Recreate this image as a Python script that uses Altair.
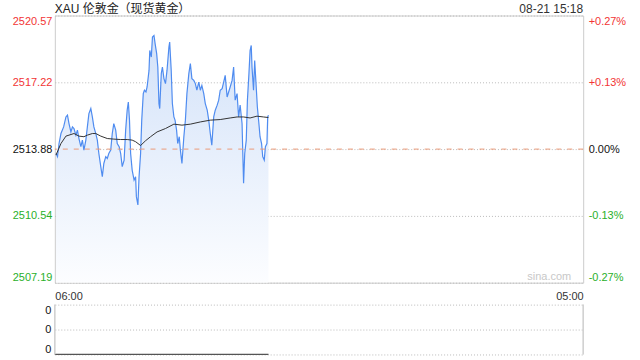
import altair as alt
import pandas as pd

# ---------------- data ----------------
title_text = "XAU 伦敦金（现货黄金）"
time_text = "08-21 15:18"
watermark = "sina.com"
x_span = [0, 1380]              # minutes after 06:00 (06:00 .. 05:00 next day)
x_labels = ["06:00", "05:00"]
y_ticks = [2507.19, 2510.54, 2513.88, 2517.22, 2520.57]
prev_close = [2513.88]

minutes = [3, 7, 11, 16, 23, 29, 33, 37, 42, 46, 50, 55, 59, 63, 68, 72, 76, 81, 85, 89,
           94, 98, 102, 107, 111, 115, 120, 124, 128, 133, 137, 141, 146, 150, 154, 159, 163, 168, 172, 176,
           181, 185, 189, 192, 195, 198, 202, 207, 211, 213, 217, 220, 224, 227, 231, 234, 238, 241, 246, 248,
           252, 255, 259, 262, 266, 269, 272, 274, 278, 281, 285, 289, 293, 298, 300, 304, 307, 311, 314, 318,
           321, 325, 328, 332, 337, 341, 345, 350, 354, 358, 363, 367, 371, 376, 380, 384, 389, 393, 398, 402,
           406, 410, 415, 419, 424, 428, 432, 437, 441, 445, 450, 454, 458, 463, 467, 471, 476, 480, 484, 489,
           491, 493, 496, 500, 503, 507, 510, 513, 515, 519, 522, 526, 529, 533, 536, 540, 543, 547, 550, 554,
           556, 558]
prices = [2513.66, 2513.50, 2514.16, 2514.66, 2514.99, 2515.49, 2515.58, 2515.16, 2514.74, 2514.99,
          2514.91, 2514.58, 2514.83, 2514.41, 2514.00, 2514.33, 2513.83, 2514.33, 2514.99, 2515.66,
          2515.91, 2515.49, 2514.99, 2514.66, 2514.33, 2513.66, 2513.00, 2512.50, 2513.16, 2513.50,
          2513.41, 2513.66, 2513.83, 2514.66, 2515.16, 2514.83, 2514.16, 2514.00, 2513.66, 2513.00,
          2513.33, 2514.83, 2515.83, 2516.24, 2515.33, 2513.66, 2512.83, 2512.33, 2512.50, 2511.50,
          2511.08, 2512.50, 2513.66, 2515.33, 2516.66, 2516.83, 2516.74, 2516.99, 2517.82, 2518.82,
          2518.49, 2519.49, 2519.57, 2519.15, 2518.66, 2517.99, 2516.16, 2515.91, 2517.66, 2517.99,
          2517.41, 2517.16, 2517.82, 2518.99, 2519.24, 2517.82, 2516.16, 2515.49, 2515.33, 2514.83,
          2514.16, 2514.50, 2513.83, 2513.16, 2514.50, 2515.33, 2516.66, 2517.66, 2518.16, 2517.41,
          2517.32, 2517.16, 2516.83, 2517.24, 2516.83, 2517.07, 2516.66, 2516.16, 2515.83, 2515.33,
          2514.66, 2514.08, 2515.49, 2515.83, 2516.08, 2516.33, 2516.83, 2516.91, 2517.24, 2517.57,
          2516.49, 2516.74, 2516.99, 2517.32, 2517.99, 2516.33, 2516.66, 2515.49, 2516.08, 2515.16,
          2513.66, 2512.17, 2513.66, 2514.33, 2516.33, 2517.66, 2518.82, 2519.07, 2517.99, 2516.83,
          2518.32, 2516.99, 2515.99, 2515.16, 2514.50, 2514.16, 2513.50, 2513.33, 2514.00, 2514.16,
          2515.49, 2515.58]

avg_minutes = [3, 16, 29, 37, 50, 63, 76, 85, 98, 107, 120, 137, 154, 172, 189, 202, 211, 224,
               237, 250, 267, 289, 311, 332, 354, 380, 406, 432, 458, 476, 493, 510, 528, 545, 558]
avg_prices = [2513.58, 2514.16, 2514.53, 2514.58, 2514.66, 2514.53, 2514.50, 2514.58, 2514.66, 2514.66,
              2514.53, 2514.41, 2514.38, 2514.36, 2514.36, 2514.33, 2514.25, 2514.06, 2514.30, 2514.50,
              2514.74, 2514.91, 2515.13, 2515.08, 2515.13, 2515.24, 2515.33, 2515.36, 2515.44, 2515.49,
              2515.49, 2515.44, 2515.53, 2515.49, 2515.46]

vol_minutes = [0, 558]
vol_values = [0, 0]
vol_ticks = [0, 0.5, 1]

# ---------------- style ----------------
FONT = "Liberation Sans, Arial, Noto Sans CJK SC"
W, H, VH = 530, 268, 50
RED, GREEN, NEUTRAL = "#f23535", "#2ab02a", "#111111"
GRID = "#bbbbbb"
FRAME = "#cccccc"

price_df = pd.DataFrame({"minute": minutes, "price": prices})
avg_df = pd.DataFrame({"minute": avg_minutes, "price": avg_prices})
pc_df = pd.DataFrame({"v": prev_close})
vol_df = pd.DataFrame({"minute": vol_minutes, "vol": vol_values})

ydom = [y_ticks[0], y_ticks[-1]]
yscale = alt.Scale(domain=ydom, zero=False, nice=False)
xscale = alt.Scale(domain=x_span, nice=False, zero=False)
color_cond = {"condition": [{"test": f"datum.value > {prev_close[0] + 0.01}", "value": RED},
                            {"test": f"datum.value < {prev_close[0] - 0.01}", "value": GREEN}],
              "value": NEUTRAL}

x_axis = alt.Axis(values=x_span,
                  labelExpr=f"datum.value == {x_span[0]} ? '{x_labels[0]}' : '{x_labels[1]}'",
                  labelFlush=True, ticks=False, domain=False, grid=False, title=None,
                  labelFontSize=11, labelColor="#333333", labelPadding=8, labelFont=FONT)

left_axis = alt.Axis(values=y_ticks, format=".2f", labelFlush=True, ticks=False, domain=False,
                     grid=True, gridColor=GRID, gridDash=[1, 2], title=None,
                     labelFontSize=11, labelColor=color_cond, labelPadding=3, labelFont=FONT)

pc = prev_close[0]
right_axis = alt.Axis(orient="right", values=y_ticks, labelFlush=True, ticks=False, domain=False,
                      grid=False, title=None, labelFontSize=11, labelColor=color_cond,
                      labelPadding=5, labelFont=FONT,
                      labelExpr=(f"abs(datum.value-{pc})<0.005 ? '0.00%' : "
                                 f"(datum.value>{pc} ? '+' : '-') + "
                                 f"format(abs(datum.value-{pc})/{pc}*100, '.2f') + '%'"))

area = alt.Chart(price_df).mark_area(
    clip=True,
    color=alt.Gradient(gradient="linear", x1=0, y1=0, x2=0, y2=1,
                       stops=[alt.GradientStop(color="#d3e2f9", offset=0),
                              alt.GradientStop(color="#fcfdff", offset=1)])
).encode(
    x=alt.X("minute:Q", scale=xscale, axis=x_axis),
    y=alt.Y("price:Q", scale=yscale, axis=left_axis),
    y2=alt.datum(ydom[0]),
)

line = alt.Chart(price_df).mark_line(color="#4f8cf0", strokeWidth=1.2, clip=True).encode(
    x=alt.X("minute:Q", scale=xscale),
    y=alt.Y("price:Q", scale=yscale),
)

avg_line = alt.Chart(avg_df).mark_line(color="#333333", strokeWidth=1, clip=True).encode(
    x=alt.X("minute:Q", scale=xscale),
    y=alt.Y("price:Q", scale=yscale),
)

pc_rule = alt.Chart(pc_df).mark_rule(color="#eb9a78", strokeDash=[5, 6], strokeWidth=1).encode(
    y=alt.Y("v:Q", scale=yscale, axis=right_axis),
)

header = pd.DataFrame({"t": [title_text]})
title_mark = alt.Chart(header).mark_text(align="left", baseline="middle", fontSize=12,
                                         font=FONT, color="#222222").encode(
    x=alt.value(0), y=alt.value(-7), text="t:N")
time_df = pd.DataFrame({"t": [time_text]})
time_mark = alt.Chart(time_df).mark_text(align="right", baseline="middle", fontSize=12,
                                         font=FONT, color="#333333").encode(
    x=alt.value(W), y=alt.value(-7), text="t:N")
wm_df = pd.DataFrame({"t": [watermark]})
wm_mark = alt.Chart(wm_df).mark_text(align="right", baseline="middle", fontSize=11,
                                     font=FONT, color="#c8c8c8").encode(
    x=alt.value(W - 12), y=alt.value(H - 6), text="t:N")

price_layer = alt.layer(area, line, avg_line, wm_mark, title_mark, time_mark)

main = alt.layer(price_layer, pc_rule).resolve_scale(
    y="independent"
).properties(width=W, height=H, view=alt.ViewBackground(stroke=FRAME, strokeWidth=1))

# ---------------- volume panel ----------------
vol_axis = alt.Axis(values=vol_ticks, labelExpr="'0'", labelFlush=True, ticks=False, domain=False,
                    grid=True, gridColor=GRID, gridDash=[1, 2], title=None,
                    labelFontSize=11, labelColor="#111111", labelPadding=4, labelFont=FONT)
vol_line = alt.Chart(vol_df).mark_line(color="#555555", strokeWidth=1.2).encode(
    x=alt.X("minute:Q", scale=xscale, axis=None),
    y=alt.Y("vol:Q", scale=alt.Scale(domain=[0, 1], nice=False), axis=vol_axis),
)
left_edge = alt.Chart(vol_df).mark_rule(color=FRAME).encode(
    x=alt.value(0), y=alt.value(0), y2=alt.value(VH))
right_edge = alt.Chart(vol_df).mark_rule(color=FRAME).encode(
    x=alt.value(W), y=alt.value(0), y2=alt.value(VH))

vol = alt.layer(vol_line, left_edge, right_edge).properties(
    width=W, height=VH, view=alt.ViewBackground(stroke="transparent"))

chart = alt.vconcat(main, vol, spacing=22, bounds="flush").properties(
    padding={"left": 11, "right": 13, "top": 1, "bottom": 6},
    background="white",
).configure_view(stroke="transparent")

chart.save("out.html", embed_options={"renderer": "svg", "actions": False})
